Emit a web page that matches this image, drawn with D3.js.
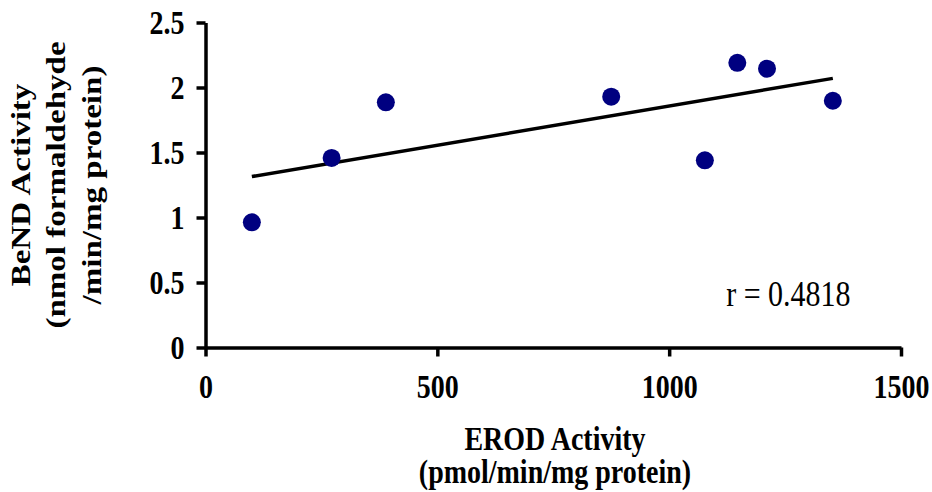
<!DOCTYPE html>
<html lang="en">
<head>
  <meta charset="UTF-8">
  <style>
    body {
      margin: 0;
      background: #fff;
      overflow: hidden;
    }

    svg {
      display: block;
    }

    .axis path,
    .axis line {
      stroke: #000;
      stroke-width: 3.5;
    }

    .axis text {
      font-family: "Liberation Serif", "Times New Roman", serif;
      font-weight: bold;
      font-size: 28px;
      fill: #000;
    }

    .title {
      font-family: "Liberation Serif", "Times New Roman", serif;
      font-weight: bold;
      font-size: 28px;
      fill: #000;
    }

    /* the source picture is a little taller than wide, so text is stretched */
    .axis text,
    .stretch {
      transform-box: fill-box;
      transform-origin: center;
      transform: scaleY(1.18);
    }

    .dot {
      fill: #000080;
    }

    .trend {
      stroke: #000;
      stroke-width: 3.5;
      fill: none;
    }
  </style>
  <script src="https://d3js.org/d3.v7.min.js"></script>
</head>
<body>

<svg id="chart"></svg>

<script>
  // EROD activity (x) vs BeND activity (y)
  const erod = [100, 272, 389, 875, 1077, 1147, 1211, 1353];
  const bend = [0.963, 1.458, 1.886, 1.929, 1.44, 2.19, 2.145, 1.898];

  const xTicks = [0, 500, 1000, 1500];
  const yTicks = [0, 0.5, 1, 1.5, 2, 2.5];

  const rLabel = "r = 0.4818";
  const xTitle = ["EROD Activity", "(pmol/min/mg protein)"];
  const yTitle = ["BeND Activity", "(nmol formaldehyde", "/min/mg protein)"];

  const width = 932, height = 492;
  const margin = { top: 22.5, left: 205.5, right: 31, bottom: 144.5 };
  const w = width - margin.left - margin.right;
  const h = height - margin.top - margin.bottom;

  const svg = d3.select("#chart")
    .attr("width", width)
    .attr("height", height);

  const g = svg.append("g")
    .attr("transform", `translate(${margin.left},${margin.top})`);

  const x = d3.scaleLinear().domain([0, 1500]).range([0, w]);
  const y = d3.scaleLinear().domain([0, 2.5]).range([h, 0]);

  // axes
  g.append("g")
    .attr("class", "axis")
    .attr("transform", `translate(0,${h})`)
    .call(d3.axisBottom(x).tickValues(xTicks).tickSize(9).tickSizeOuter(0).tickPadding(20)
      .tickFormat(d3.format("d")))
    .call(s => s.selectAll("text").attr("font-size", null));

  g.append("g")
    .attr("class", "axis")
    .call(d3.axisLeft(y).tickValues(yTicks).tickSize(9).tickSizeOuter(0).tickPadding(12)
      .tickFormat(d3.format("")))
    .call(s => s.selectAll("text").attr("font-size", null));

  g.selectAll(".axis").attr("font-family", null);

  // least-squares trend line over the data range
  const pts = erod.map((v, i) => [v, bend[i]]);
  const mx = d3.mean(erod), my = d3.mean(bend);
  const slope = d3.sum(pts, p => (p[0] - mx) * (p[1] - my)) / d3.sum(pts, p => (p[0] - mx) ** 2);
  const icpt = my - slope * mx;
  const [x0, x1] = d3.extent(erod);

  g.append("line")
    .attr("class", "trend")
    .attr("x1", x(x0)).attr("y1", y(icpt + slope * x0))
    .attr("x2", x(x1)).attr("y2", y(icpt + slope * x1));

  g.selectAll(".dot")
    .data(pts)
    .join("circle")
    .attr("class", "dot")
    .attr("cx", d => x(d[0]))
    .attr("cy", d => y(d[1]))
    .attr("r", 9);

  // correlation label
  g.append("text")
    .attr("class", "stretch")
    .attr("x", x(1123))
    .attr("y", y(0.33))
    .attr("font-family", "'Liberation Serif', 'Times New Roman', serif")
    .attr("font-size", 30)
    .text(rLabel);

  // axis titles
  svg.selectAll(".xtitle")
    .data(xTitle)
    .join("text")
    .attr("class", "title stretch xtitle")
    .attr("text-anchor", "middle")
    .attr("x", 555)
    .attr("y", (d, i) => 448 + i * 33)
    .text(d => d);

  svg.append("g")
    .attr("transform", "translate(0,185) scale(1,1.18)")
    .append("text")
    .attr("class", "title")
    .attr("text-anchor", "middle")
    .attr("transform", "rotate(-90)")
    .selectAll("tspan")
    .data(yTitle)
    .join("tspan")
    .attr("x", 0)
    .attr("y", (d, i) => 30 + i * 35.5)
    .text(d => d);
</script>

</body>
</html>
